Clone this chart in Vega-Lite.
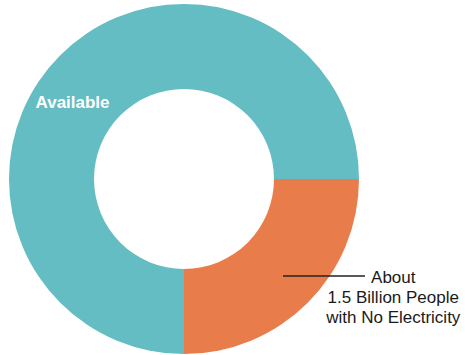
{
  "$schema": "https://vega.github.io/schema/vega-lite/v6.json",
  "width": 350,
  "height": 350,
  "autosize": {"type": "none"},
  "padding": {"left": 9, "top": 4, "right": 106, "bottom": 1},
  "background": "white",
  "config": {"view": {"stroke": null}},
  "data": {
    "values": [
      {"category": "No Electricity", "value": 1.5, "rank": 1, "label": "About\n1.5 Billion People\nwith No Electricity"},
      {"category": "Available", "value": 4.5, "rank": 2, "label": "Available"}
    ]
  },
  "encoding": {
    "theta": {"field": "value", "type": "quantitative", "stack": true, "scale": {"range": [1.5707963, 7.8539816]}},
    "order": {"field": "rank", "type": "quantitative"}
  },
  "layer": [
    {
      "mark": {"type": "arc", "outerRadius": 175, "innerRadius": 90},
      "encoding": {
        "color": {
          "field": "category",
          "type": "nominal",
          "scale": {"domain": ["Available", "No Electricity"], "range": ["#63BDC2", "#E97C4B"]},
          "legend": null
        }
      }
    },
    {
      "mark": {"type": "text", "radius": 135, "dx": -16, "dy": 24, "font": "Liberation Sans", "fontSize": 17, "fontWeight": "bold", "color": "white", "align": "center", "baseline": "alphabetic"},
      "encoding": {
        "text": {"condition": {"test": "datum.category === 'Available'", "field": "label"}, "value": ""}
      }
    },
    {
      "mark": {"type": "text", "radius": 139, "dx": 111, "dy": 6, "font": "Liberation Sans", "fontSize": 17, "color": "#1a1a1a", "align": "center", "baseline": "alphabetic", "lineBreak": "\n", "lineHeight": 20},
      "encoding": {
        "text": {"condition": {"test": "datum.category === 'No Electricity'", "field": "label"}, "value": ""}
      }
    },
    {
      "mark": {"type": "rule", "color": "#222222", "strokeWidth": 1.2},
      "encoding": {
        "x": {"value": 274},
        "x2": {"value": 356},
        "y": {"value": 272}
      }
    }
  ]
}
